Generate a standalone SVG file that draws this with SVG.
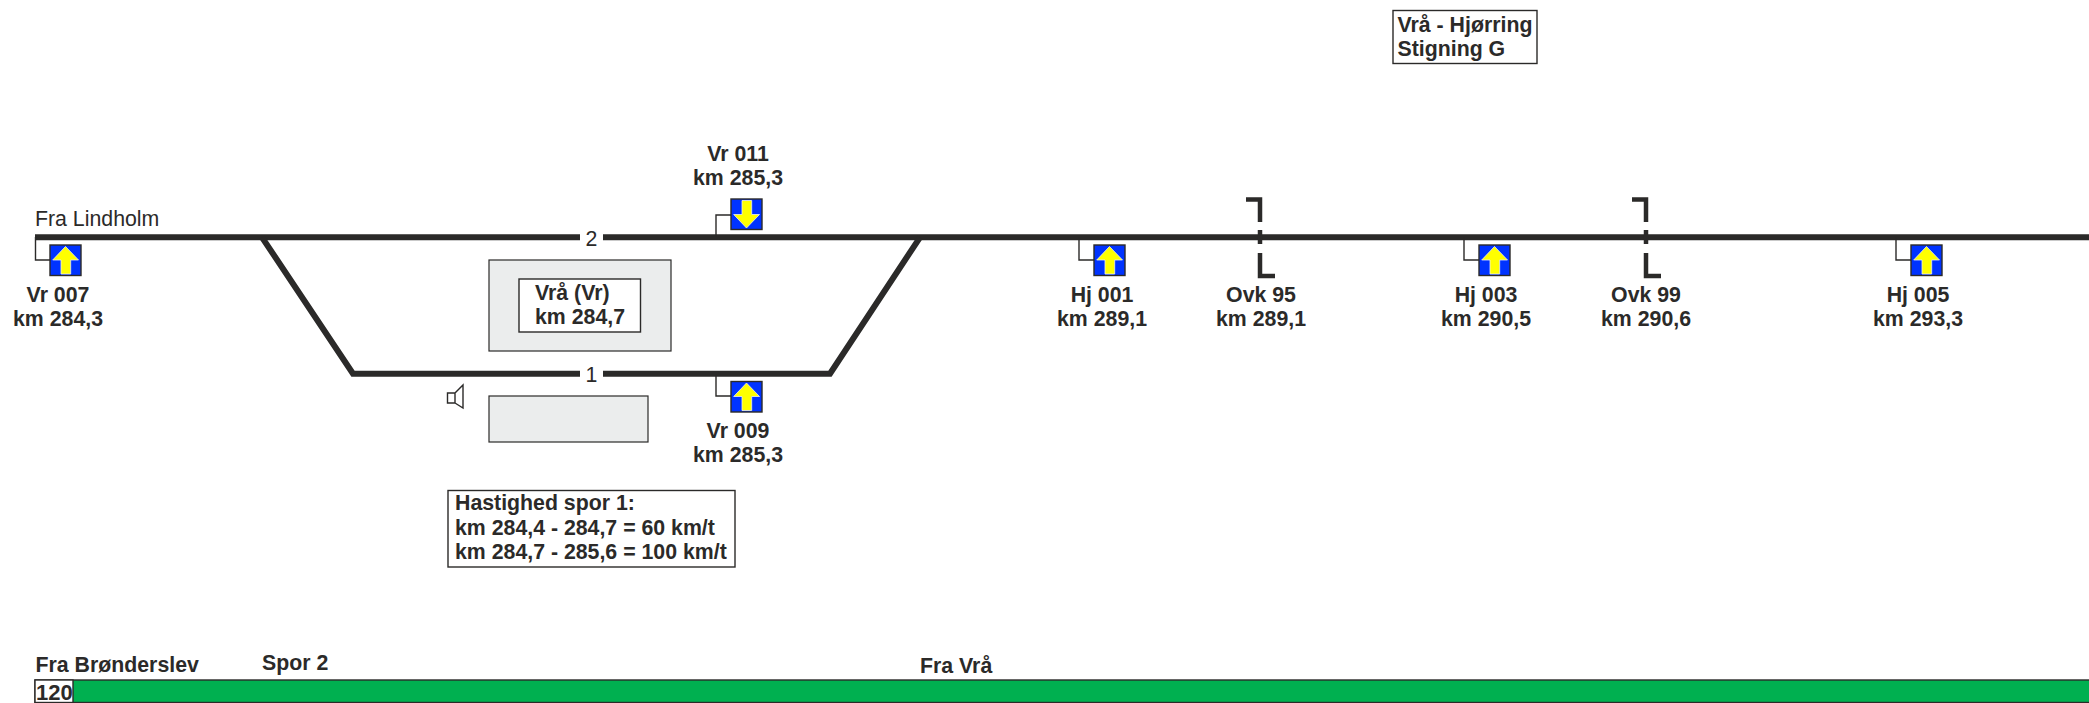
<svg xmlns="http://www.w3.org/2000/svg" width="2089" height="703" viewBox="0 0 2089 703">
<style>
text{font-family:"Liberation Sans",Arial,sans-serif;font-size:21.3px;fill:#2b2a29}
.b{font-weight:bold}
.m{text-anchor:middle}
.trk{fill:none;stroke:#2b2a29;stroke-width:6}
.ovk{fill:none;stroke:#2b2a29;stroke-width:4.5}
.ln{fill:none;stroke:#2b2a29;stroke-width:1.4}
.box{fill:#fff;stroke:#2b2a29;stroke-width:1.4}
.gr{fill:#ebeded;stroke:#2b2a29;stroke-width:1.2}
.sig{fill:#0033ff;stroke:#2b2a29;stroke-width:1.4}
.arr{fill:#ffff00;stroke:#ebeded;stroke-width:.8}
</style>
<defs>
<g id="up"><rect class="sig" width="31" height="30.5"/><path class="arr" d="M15.5 1.5L28.5 15H20.7V29H11V15H2.7Z"/></g>
<g id="dn"><rect class="sig" width="31" height="30.5"/><path class="arr" d="M15.5 29L28.5 15.5H20.7V1.5H11V15.5H2.7Z"/></g>
</defs>
<g id="connectors">
<path class="trk" d="M35 237.3H580M603 237.3H2089"/>
<path class="trk" d="M262 237.3L353 373.7H580M603 373.7H830L920 237.3"/>
<path class="ln" d="M35.500 237V260H50"/>
<path class="ln" d="M716 237V215H731"/>
<path class="ln" d="M716 374V396H731"/>
<path class="ln" d="M1079 237V260H1094"/>
<path class="ln" d="M1464 237V260H1479"/>
<path class="ln" d="M1896 237V260H1911"/>
</g>
<g id="track-labels">
<text class="m" x="591.500" y="246">2</text>
<text class="m" x="591.500" y="382">1</text>
<text x="35" y="226">Fra Lindholm</text>
</g>
<g id="vr007"><use href="#up" x="50" y="245"/><text class="b m" x="58" y="302">Vr 007</text><text class="b m" x="58" y="326">km 284,3</text></g>
<g id="vr011"><use href="#dn" x="731" y="199"/><text class="b m" x="738" y="161">Vr 011</text><text class="b m" x="738" y="185">km 285,3</text></g>
<g id="vr009"><use href="#up" x="731" y="381.500"/><text class="b m" x="738" y="438">Vr 009</text><text class="b m" x="738" y="462">km 285,3</text></g>
<g id="hj001"><use href="#up" x="1094" y="245"/><text class="b m" x="1102" y="302">Hj 001</text><text class="b m" x="1102" y="326">km 289,1</text></g>
<g id="hj003"><use href="#up" x="1479" y="245"/><text class="b m" x="1486" y="302">Hj 003</text><text class="b m" x="1486" y="326">km 290,5</text></g>
<g id="hj005"><use href="#up" x="1911" y="245"/><text class="b m" x="1918" y="302">Hj 005</text><text class="b m" x="1918" y="326">km 293,3</text></g>
<g id="ovk95"><path class="ovk" d="M1246 199.500H1260V222M1260 230V244M1260 253V276H1275"/><text class="b m" x="1261" y="302">Ovk 95</text><text class="b m" x="1261" y="326">km 289,1</text></g>
<g id="ovk99"><path class="ovk" d="M1632 199.500H1646V222M1646 230V244M1646 253V276H1661"/><text class="b m" x="1646" y="302">Ovk 99</text><text class="b m" x="1646" y="326">km 290,6</text></g>
<g id="station"><rect class="gr" x="489" y="260" width="182" height="91"/><rect class="box" x="519" y="279" width="121.500" height="53"/><text class="b" x="535" y="300">Vrå (Vr)</text><text class="b" x="535" y="324">km 284,7</text></g>
<g id="platform"><rect class="gr" x="489" y="396" width="159" height="46"/></g>
<g id="speaker"><path class="ln" d="M447.500 393H455V403H447.500ZM455 393L463 385V408L455 403"/></g>
<g id="speed"><rect class="box" x="448" y="490.500" width="287" height="76.500"/><text class="b" x="455" y="510">Hastighed spor 1:</text><text class="b" x="455" y="535">km 284,4 - 284,7 = 60 km/t</text><text class="b" x="455" y="559">km 284,7 - 285,6 = 100 km/t</text></g>
<g id="title"><rect class="box" x="1393" y="10.500" width="144" height="53"/><text class="b" x="1397.500" y="32">Vrå - Hjørring</text><text class="b" x="1397.500" y="56">Stigning G</text></g>
<g id="speedbar">
<text class="b" x="35.500" y="672">Fra Brønderslev</text><text class="b" x="262" y="670">Spor 2</text><text class="b" x="920" y="673">Fra Vrå</text>
<rect x="35" y="680" width="2055" height="22.500" fill="#00b050" stroke="#2b2a29" stroke-width="1.400"/>
<rect class="box" x="35" y="680" width="38" height="22.500"/>
<text class="b" x="36" y="699.500" style="font-size:22px">120</text>
</g>
</svg>
